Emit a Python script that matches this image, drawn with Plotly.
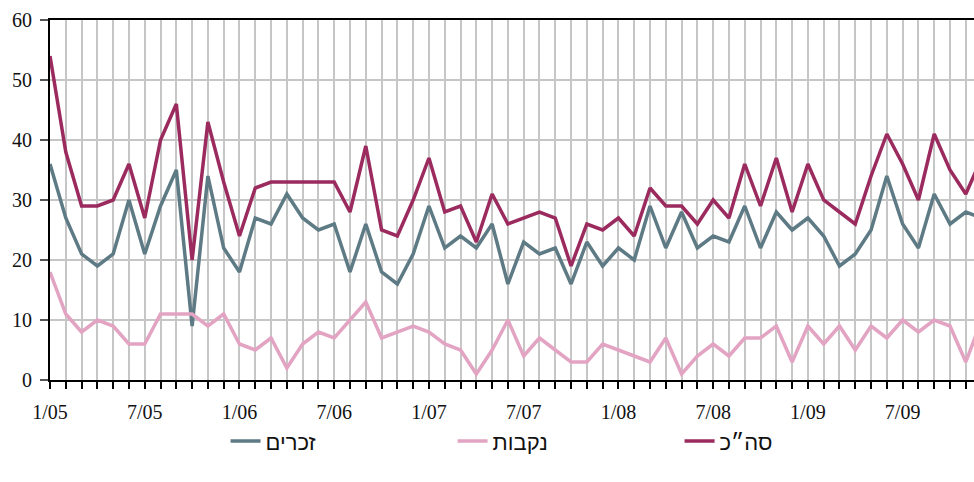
import plotly.graph_objects as go

months = ["1/05","2/05","3/05","4/05","5/05","6/05","7/05","8/05","9/05","10/05","11/05","12/05",
          "1/06","2/06","3/06","4/06","5/06","6/06","7/06","8/06","9/06","10/06","11/06","12/06",
          "1/07","2/07","3/07","4/07","5/07","6/07","7/07","8/07","9/07","10/07","11/07","12/07",
          "1/08","2/08","3/08","4/08","5/08","6/08","7/08","8/08","9/08","10/08","11/08","12/08",
          "1/09","2/09","3/09","4/09","5/09","6/09","7/09","8/09","9/09","10/09","11/09","12/09"]

males = [36, 27, 21, 19, 21, 30, 21, 29, 35, 9, 34, 22,
         18, 27, 26, 31, 27, 25, 26, 18, 26, 18, 16, 21,
         29, 22, 24, 22, 26, 16, 23, 21, 22, 16, 23, 19,
         22, 20, 29, 22, 28, 22, 24, 23, 29, 22, 28, 25,
         27, 24, 19, 21, 25, 34, 26, 22, 31, 26, 28, 27]

females = [18, 11, 8, 10, 9, 6, 6, 11, 11, 11, 9, 11,
           6, 5, 7, 2, 6, 8, 7, 10, 13, 7, 8, 9,
           8, 6, 5, 1, 5, 10, 4, 7, 5, 3, 3, 6,
           5, 4, 3, 7, 1, 4, 6, 4, 7, 7, 9, 3,
           9, 6, 9, 5, 9, 7, 10, 8, 10, 9, 3, 10]

total = [54, 38, 29, 29, 30, 36, 27, 40, 46, 20, 43, 33,
         24, 32, 33, 33, 33, 33, 33, 28, 39, 25, 24, 30,
         37, 28, 29, 23, 31, 26, 27, 28, 27, 19, 26, 25,
         27, 24, 32, 29, 29, 26, 30, 27, 36, 29, 37, 28,
         36, 30, 28, 26, 34, 41, 36, 30, 41, 35, 31, 37]

series_names = ["זכרים", "נקבות", "סה״כ"]
y_ticks = [0, 10, 20, 30, 40, 50, 60]

x = list(range(len(months)))
tick_text = [m if i % 6 == 0 else "" for i, m in enumerate(months)]

colors = ["#5e7a84", "#e2a4c2", "#9b2b5e"]

fig = go.Figure()
for name, vals, c in zip(series_names, [males, females, total], colors):
    fig.add_trace(go.Scatter(x=x, y=vals, name=name, mode="lines",
                             line=dict(color=c, width=3.5)))

fig.update_layout(
    width=974, height=482,
    margin=dict(l=50, r=0, t=20, b=102, autoexpand=False),
    paper_bgcolor="white", plot_bgcolor="white",
    font=dict(family="Liberation Serif", size=20, color="#111"),
    showlegend=True,
    legend=dict(orientation="h", x=0.19, xanchor="left", y=-0.17, yanchor="middle",
                entrywidth=182, entrywidthmode="pixels",
                font=dict(family="Liberation Sans", size=22, color="#111")),
)
fig.update_xaxes(range=[0, 58.52], tickvals=x, ticktext=tick_text,
                 showgrid=True, gridcolor="#c6c6c6", gridwidth=1.5,
                 showline=True, linecolor="black", linewidth=2, mirror=True,
                 ticks="outside", ticklen=7, tickwidth=2, tickcolor="black",
                 ticklabelstandoff=6, zeroline=False)
fig.update_yaxes(range=[0, 60], tickvals=y_ticks,
                 showgrid=True, gridcolor="#c6c6c6", gridwidth=1.5,
                 showline=True, linecolor="black", linewidth=2,
                 ticks="outside", ticklen=8, tickwidth=1.5, tickcolor="#555",
                 ticklabelstandoff=4, zeroline=False)

fig.write_html("out.html", config={"displayModeBar": False},
               post_script="document.body.style.margin='0';document.body.style.overflow='hidden';")
